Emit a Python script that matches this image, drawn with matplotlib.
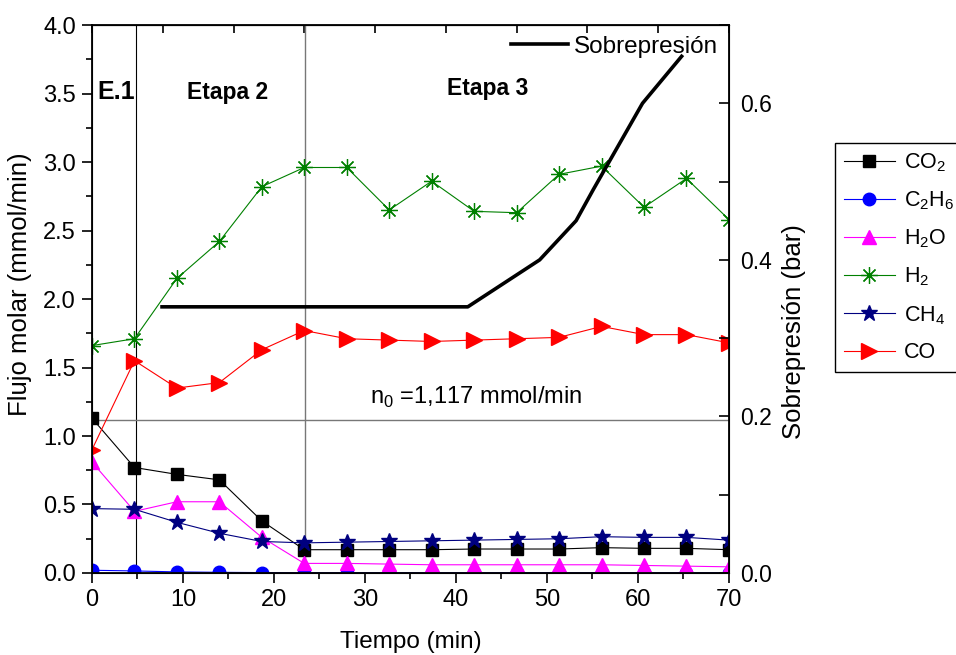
import numpy as np
import matplotlib.pyplot as plt
from matplotlib.ticker import MultipleLocator

plt.rcParams['font.family'] = ['Liberation Sans', 'DejaVu Sans']
plt.rcParams['mathtext.fontset'] = 'custom'
plt.rcParams['mathtext.rm'] = 'Liberation Sans'

# tiempos de muestreo (min)
tiempo = [0, 4.67, 9.33, 14.0, 18.67, 23.33, 28.0, 32.67, 37.33, 42.0,
          46.67, 51.33, 56.0, 60.67, 65.33, 70.0]

co2 = [1.13, 0.77, 0.72, 0.68, 0.38, 0.17, 0.17, 0.17, 0.17, 0.175,
       0.175, 0.175, 0.185, 0.18, 0.18, 0.17]
c2h6 = [0.02, 0.015, 0.008, 0.005, 0.003, 0.002, 0.002, 0.002, 0.002, 0.002,
        0.002, 0.002, 0.002, 0.002, 0.002, 0.002]
h2o = [0.81, 0.45, 0.52, 0.52, 0.26, 0.07, 0.07, 0.065, 0.06, 0.06,
       0.06, 0.06, 0.06, 0.055, 0.05, 0.045]
h2 = [1.66, 1.71, 2.15, 2.42, 2.82, 2.96, 2.96, 2.65, 2.86, 2.64,
      2.63, 2.91, 2.97, 2.67, 2.88, 2.58]
ch4 = [0.47, 0.465, 0.37, 0.29, 0.23, 0.22, 0.225, 0.23, 0.235, 0.24,
       0.245, 0.25, 0.265, 0.26, 0.26, 0.24]
co = [0.90, 1.55, 1.35, 1.39, 1.63, 1.77, 1.71, 1.70, 1.69, 1.70,
      1.71, 1.72, 1.80, 1.74, 1.74, 1.68]

# sobrepresion (bar)
t_pres = [7.7, 41.3, 49.2, 53.2, 55.1, 60.5, 64.8]
pres = [0.34, 0.34, 0.40, 0.45, 0.49, 0.60, 0.66]

n0 = 1.117
etapas = [4.85, 23.4]

fig = plt.figure(figsize=(9.56, 6.55), dpi=100)
ax = fig.add_axes([0.0962, 0.1252, 0.6663, 0.8366])

# lineas de referencia
ax.axvline(etapas[0], color='black', lw=0.8, zorder=1)
ax.axvline(etapas[1], color='#777777', lw=1.0, zorder=1)
ax.axhline(n0, color='#777777', lw=1.0, zorder=1)

asterisco = (8, 2, 0)
ax.plot(tiempo, co2, color='black', marker='s', ms=9, lw=0.8, label=r'CO$_2$')
ax.plot(tiempo, c2h6, color='blue', marker='o', ms=9, lw=0.8, label=r'C$_2$H$_6$')
ax.plot(tiempo, h2o, color='magenta', marker='^', ms=10, lw=0.8, label=r'H$_2$O')
ax.plot(tiempo, h2, color='#008000', marker=asterisco, ms=12, lw=0.8,
        mew=0.9, label=r'H$_2$')
ax.plot(tiempo, ch4, color='#000080', marker='*', ms=12, lw=0.8, label=r'CH$_4$')
ax.plot(tiempo, co, color='red', marker='>', ms=11, lw=0.8, label='CO')

ax.set_xlim(0, 70)
ax.set_ylim(0, 4.0)
ax.xaxis.set_major_locator(MultipleLocator(10))
ax.xaxis.set_minor_locator(MultipleLocator(5))
ax.yaxis.set_major_locator(MultipleLocator(0.5))
ax.yaxis.set_minor_locator(MultipleLocator(0.25))
ax.yaxis.set_major_formatter(plt.FormatStrFormatter('%.1f'))
ax.tick_params(axis='both', which='major', direction='out', length=7.5,
               width=1.2, labelsize=17, pad=4)
ax.tick_params(axis='both', which='minor', direction='out', length=4.5, width=1.2)
for s in ax.spines.values():
    s.set_linewidth(1.3)

# eje superior con sus propias marcas
top = ax.secondary_xaxis('top')
top.set_xticks(np.linspace(0, 70, 10))
top.tick_params(direction='in', length=6, width=1.2, labeltop=False)
top.xaxis.set_minor_locator(plt.NullLocator())

ax.set_xlabel('Tiempo (min)', fontsize=17.5, labelpad=14.5)
ax.set_ylabel('Flujo molar (mmol/min)', fontsize=18.5)
ax.yaxis.set_label_coords(-0.094, 0.527)

ax.text(0.55, 3.51, 'E.1', fontsize=18, fontweight='bold', va='center')
ax.text(10.4, 3.51, 'Etapa 2', fontsize=16.5, fontweight='bold', va='center')
ax.text(39.0, 3.54, 'Etapa 3', fontsize=16.5, fontweight='bold', va='center')
ax.text(30.5, 1.285, r'n$_0$ =1,117 mmol/min', fontsize=17, va='center')

# eje derecho: sobrepresion
ax2 = ax.twinx()
ax2.plot(t_pres, pres, color='black', lw=2.6, label='Sobrepresión')
ax2.set_ylim(0, 0.7)
ax2.yaxis.set_major_locator(MultipleLocator(0.2))
ax2.yaxis.set_minor_locator(MultipleLocator(0.1))
ax2.yaxis.set_major_formatter(plt.FormatStrFormatter('%.1f'))
ax2.tick_params(axis='y', which='major', direction='in', length=7, width=1.2,
                labelsize=16.5, pad=8)
ax2.tick_params(axis='y', which='minor', direction='in', length=7, width=1.2)
ax2.set_ylabel('Sobrepresión (bar)', fontsize=18.5)
ax2.yaxis.set_label_coords(1.083, 0.44)
ax2.legend(loc='upper right', frameon=False, fontsize=17.5, handlelength=2.35,
           handletextpad=0.25, borderaxespad=0.3, borderpad=0.15)

fig.legend(handles=ax.get_lines()[3:], loc='upper left',
           bbox_to_anchor=(0.8734, 0.7817), borderaxespad=0, fontsize=15.5,
           handlelength=2.4, labelspacing=0.72, fancybox=False,
           edgecolor='black', framealpha=1, handletextpad=0.4)
fig.legends[0].get_frame().set_linewidth(1.0)

plt.savefig('out.png', dpi=100)
